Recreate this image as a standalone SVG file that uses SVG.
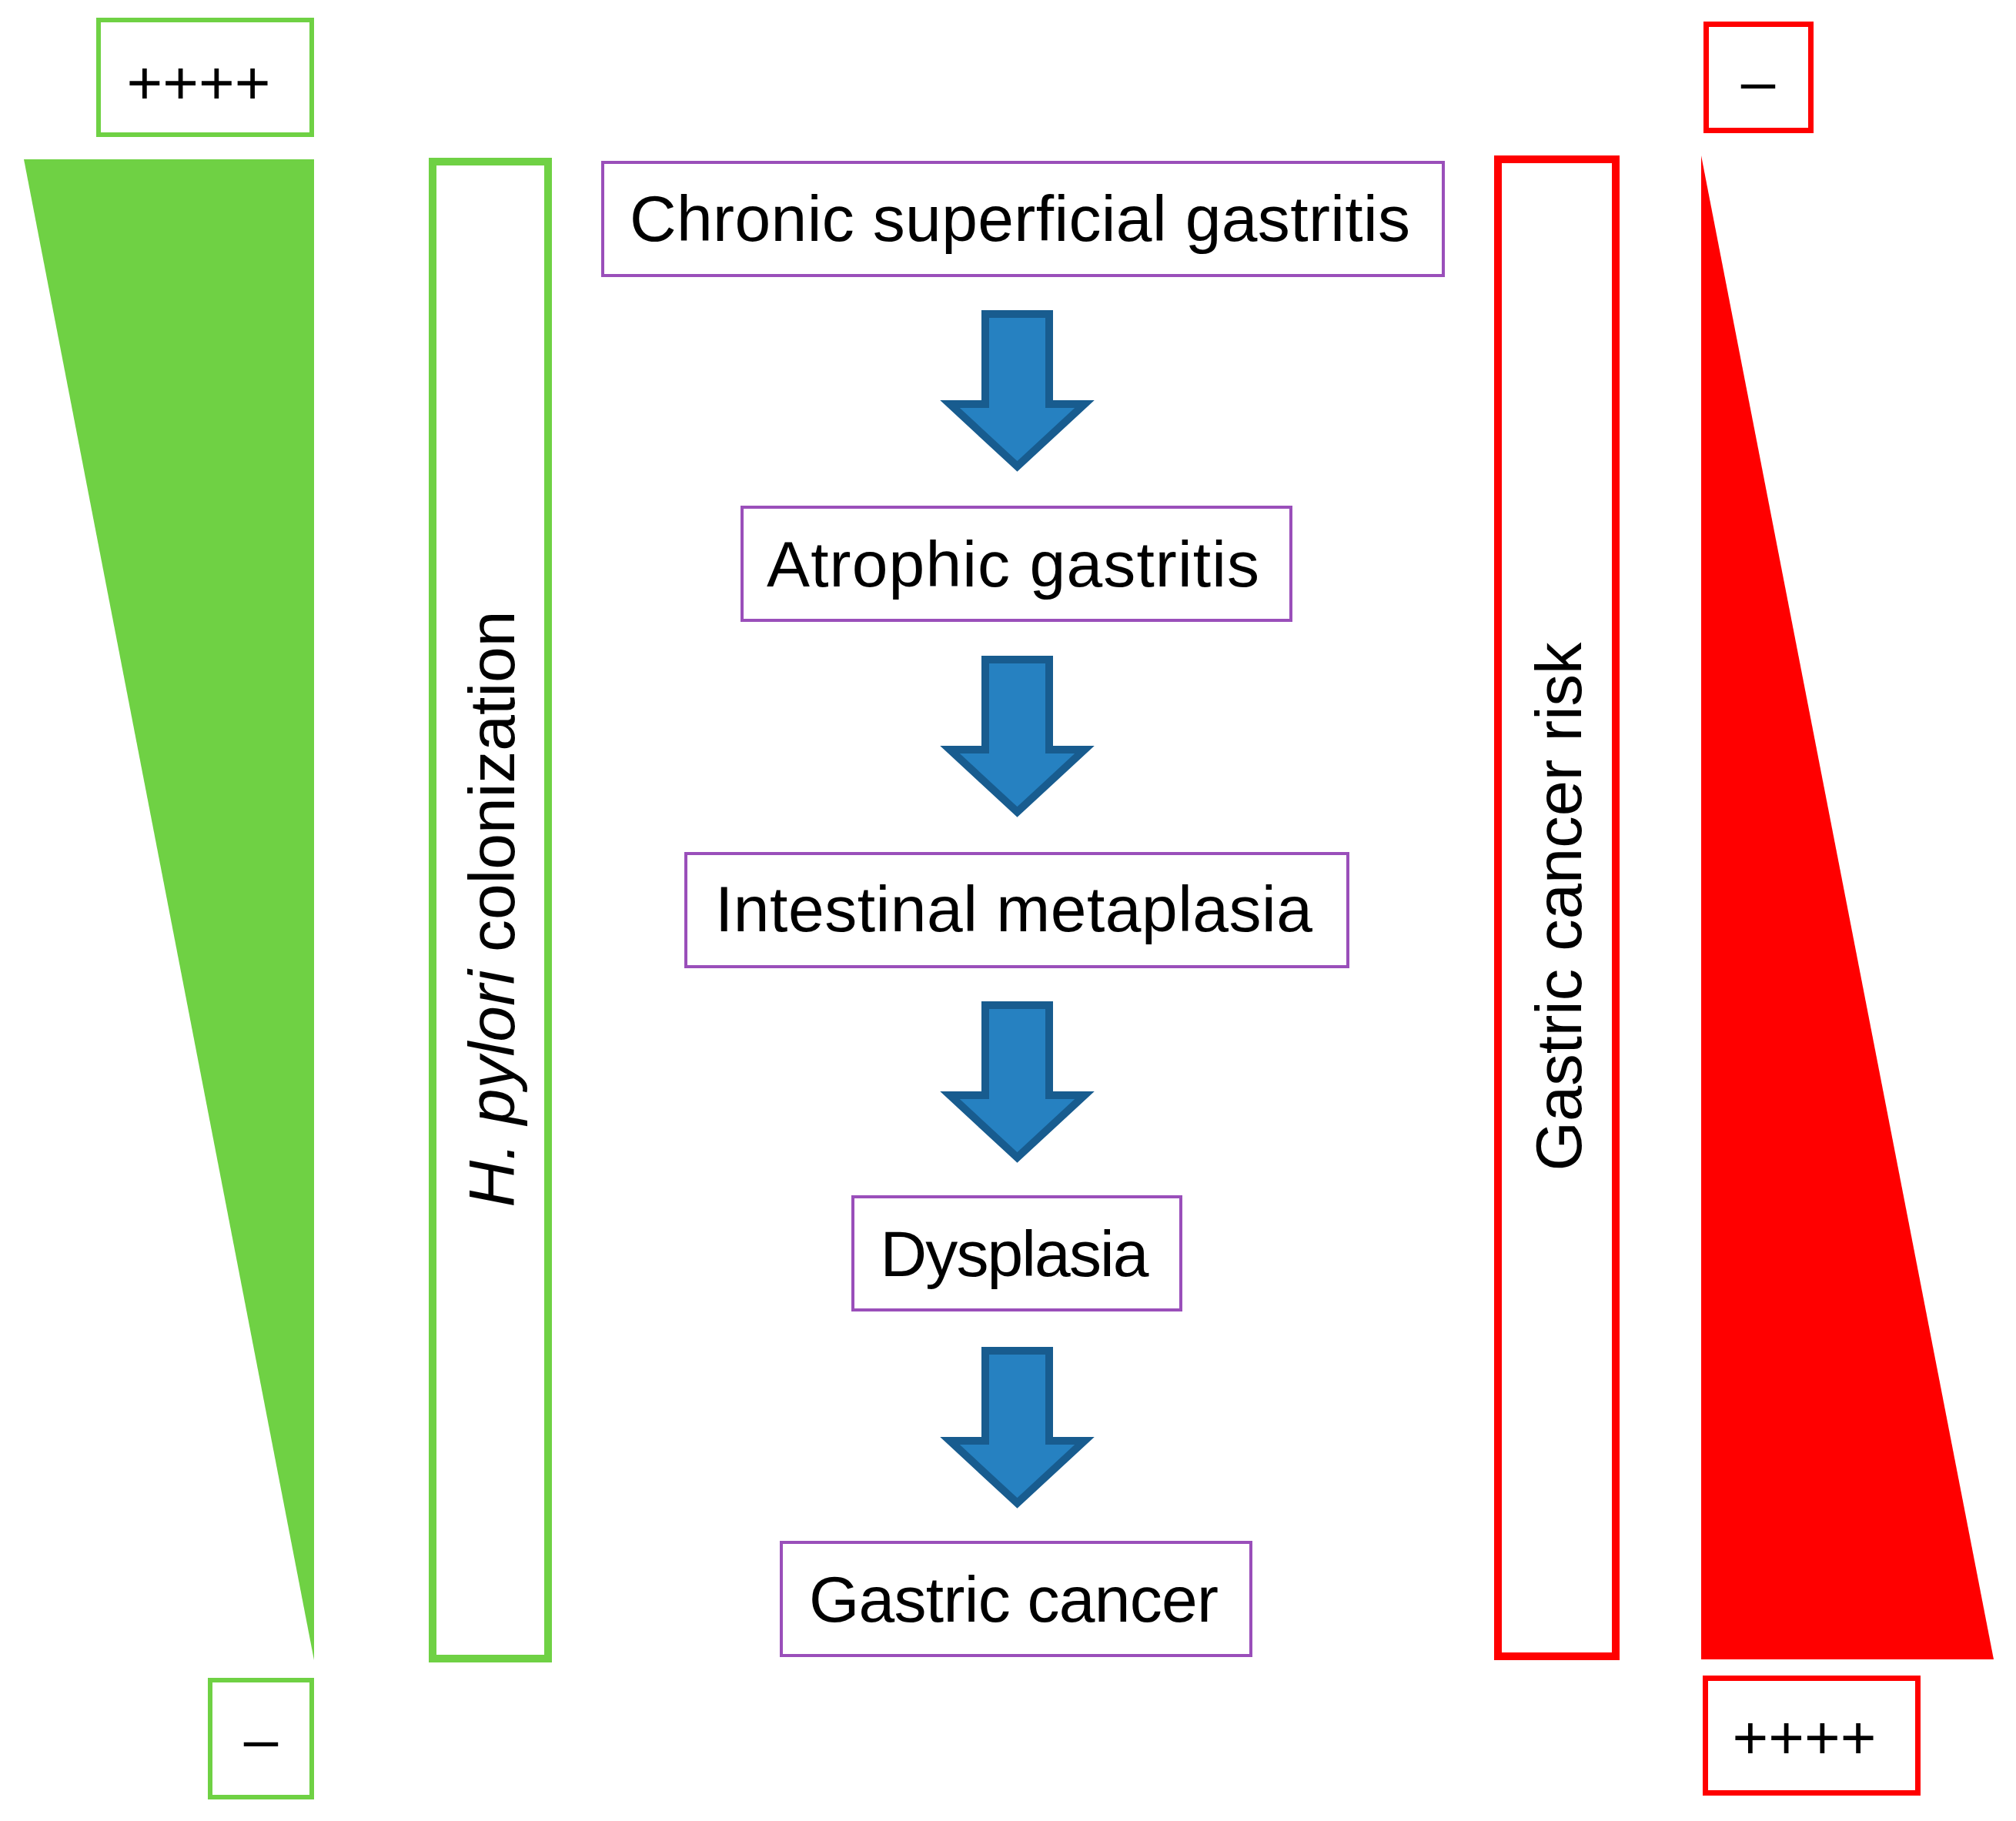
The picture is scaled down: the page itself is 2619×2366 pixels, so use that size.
<svg xmlns="http://www.w3.org/2000/svg" width="2619" height="2366" viewBox="0 0 2619 2366">
<style>
.t{font-family:"Liberation Sans",Arial,sans-serif;fill:#000;}
.stage{fill:#fff;stroke:#9A4FBA;stroke-width:4;}
.g{fill:none;stroke:#6FD144;}
.r{fill:none;stroke:#FF0000;}
.arrow{fill:#2681C1;stroke:#185C8F;stroke-width:10;stroke-linejoin:miter;stroke-miterlimit:10;}
</style>
<rect width="2619" height="2366" fill="#fff"/>
<g id="hp-scale">
<polygon points="31,207 408,207 408,2157" fill="#6FD144"/>
<rect class="g" x="128" y="26" width="277" height="149" stroke-width="6"/>
<text class="t" x="258" y="135" font-size="80" text-anchor="middle">++++</text>
<rect class="g" x="273" y="2183" width="132" height="152" stroke-width="6"/>
<text class="t" x="339" y="2287" font-size="80" text-anchor="middle">–</text>
</g>
<g id="hp-label">
<rect class="g" x="562" y="210" width="150" height="1945" stroke-width="10"/>
<text class="t" font-size="84" text-anchor="middle" transform="translate(668,1181) rotate(-90)"><tspan font-style="italic">H. pylori</tspan> colonization</text>
</g>
<g id="risk-label">
<rect class="r" x="1946" y="207" width="153" height="1945" stroke-width="10"/>
<text class="t" font-size="83" text-anchor="middle" transform="translate(2054,1178) rotate(-90)">Gastric cancer risk</text>
</g>
<g id="risk-scale">
<polygon points="2210,202 2590,2156 2210,2156" fill="#FF0000"/>
<rect class="r" x="2216.5" y="31.5" width="136" height="138" stroke-width="7"/>
<text class="t" x="2284" y="133" font-size="80" text-anchor="middle">–</text>
<rect class="r" x="2215.5" y="2180.5" width="276" height="149" stroke-width="7"/>
<text class="t" x="2344" y="2285" font-size="80" text-anchor="middle">++++</text>
</g>
<g id="stage1">
<rect class="stage" x="783" y="211" width="1092" height="147"/>
<text class="t" x="1325" y="313" font-size="84" text-anchor="middle" textLength="1014">Chronic superficial gastritis</text>
</g>
<g id="stage2">
<rect class="stage" x="964" y="659" width="713" height="147"/>
<text class="t" x="1316" y="762" font-size="84" text-anchor="middle" textLength="640">Atrophic gastritis</text>
</g>
<g id="stage3">
<rect class="stage" x="891" y="1109" width="860" height="147"/>
<text class="t" x="1317" y="1210" font-size="84" text-anchor="middle" textLength="776">Intestinal metaplasia</text>
</g>
<g id="stage4">
<rect class="stage" x="1108" y="1555" width="426" height="147"/>
<text class="t" x="1318" y="1658" font-size="84" text-anchor="middle" textLength="349">Dysplasia</text>
</g>
<g id="stage5">
<rect class="stage" x="1015" y="2004" width="610" height="147"/>
<text class="t" x="1317" y="2107" font-size="84" text-anchor="middle" textLength="532">Gastric cancer</text>
</g>
<g id="connectors">
<path class="arrow" d="M1280,408 H1363 V525 H1409 L1321.5,606 L1234,525 H1280 Z"/>
<path class="arrow" d="M1280,857 H1363 V974 H1409 L1321.5,1055 L1234,974 H1280 Z"/>
<path class="arrow" d="M1280,1306 H1363 V1423 H1409 L1321.5,1504 L1234,1423 H1280 Z"/>
<path class="arrow" d="M1280,1755 H1363 V1872 H1409 L1321.5,1953 L1234,1872 H1280 Z"/>
</g>
</svg>
